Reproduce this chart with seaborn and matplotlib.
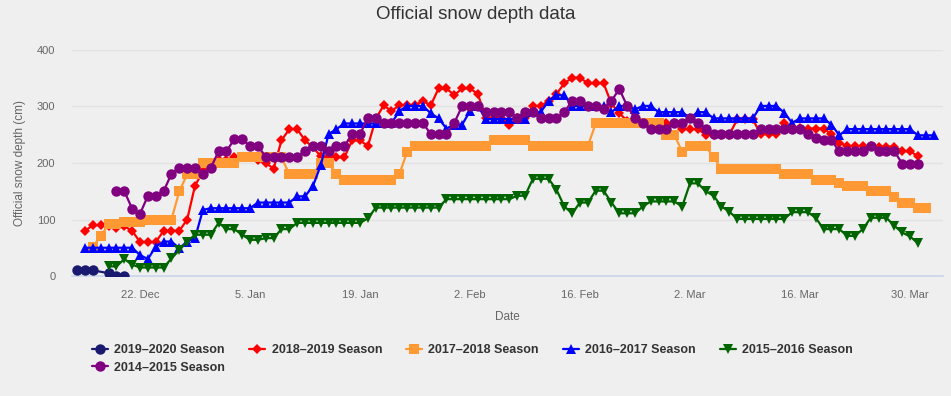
import pandas as pd
import seaborn as sns
import matplotlib.pyplot as plt
import numpy as np

# day 0 = 22 Dec, one value per day from the start day of each season
base_date = pd.Timestamp("2018-12-22")

seasons = ["2019–2020 Season", "2018–2019 Season", "2017–2018 Season",
           "2016–2017 Season", "2015–2016 Season", "2014–2015 Season"]
colors = ["#191970", "#ff0000", "#ff9933", "#0000ff", "#006400", "#800080"]
markers = ["o", "D", "s", "^", "v", "o"]
start_days = [-8, -7, -6, -7, -4, -3]

depth_1920 = [10, 10, 10, None, 5, 0, 0]

depth_1819 = [80, 90, 90, 88, 85, 88, 80, 60, 60, 60, 80, 80, 80, 100, 160, 185,
              195, 205, 205, 210, 210, 210, 205, 200, 190, 240, 260, 260, 240, 228,
              212, 210, 210, 210, 240, 240, 230, 278, 302, 292, 302, 302, 302, 310,
              302, 332, 332, 320, 332, 332, 322, 280, 280, 280, 268, 280, 280, 301,
              301, 310, 322, 341, 351, 351, 341, 341, 341, 305, 288, 275, 270, 270,
              265, 265, 270, 270, 260, 260, 260, 250, 250, 250, 250, 277, 277, 277,
              251, 251, 251, 271, 264, 262, 261, 261, 261, 251, 236, 230, 230, 230,
              230, 229, 229, 229, 221, 221, 212]

depth_1718 = [52, 70, 92, 92, 95, 95, 95, 100, 100, 100, 100, 150, 180, 180, 200,
              200, 200, 200, 200, 210, 210, 210, 210, 210, 210, 180, 180, 180, 180,
              200, 200, 180, 170, 170, 170, 170, 170, 170, 170, 180, 220, 230, 230,
              230, 230, 230, 230, 230, 230, 230, 230, 240, 240, 240, 240, 240, 230,
              230, 230, 230, 230, 230, 230, 230, 270, 270, 270, 270, 270, 270, 270,
              270, 270, 250, 250, 220, 230, 230, 230, 210, 190, 190, 190, 190, 190,
              190, 190, 190, 180, 180, 180, 180, 170, 170, 170, 165, 160, 160, 160,
              150, 150, 150, 140, 130, 130, 120, 120]

depth_1617 = [50, 50, 50, 50, 50, 50, 50, 37, 30, 52, 61, 61, 49, 61, 67, 117, 120,
              120, 120, 120, 120, 120, 130, 130, 130, 130, 130, 141, 141, 159, 196,
              251, 260, 270, 270, 270, 270, 270, 270, 270, 292, 301, 301, 301, 288,
              279, 261, 268, 268, 292, 301, 278, 278, 278, 278, 278, 278, 290, 290,
              310, 320, 320, 301, 301, 301, 301, 301, 290, 301, 301, 295, 301, 301,
              290, 290, 290, 290, 280, 290, 290, 279, 279, 279, 279, 279, 279, 301,
              301, 301, 289, 271, 279, 279, 279, 279, 268, 249, 260, 260, 260, 260,
              260, 260, 260, 260, 260, 249, 249, 249]

depth_1516 = [17, 17, 30, 20, 15, 15, 15, 15, 31, 46, 61, 73, 73, 73, 94, 83, 83,
              73, 64, 64, 67, 67, 83, 83, 94, 94, 94, 94, 94, 94, 94, 94, 94, 102,
              121, 121, 121, 121, 121, 121, 121, 121, 121, 136, 136, 136, 136, 136,
              136, 136, 136, 136, 142, 142, 172, 172, 172, 153, 123, 111, 130, 130,
              151, 151, 130, 111, 111, 111, 123, 132, 132, 132, 132, 123, 164, 164,
              150, 142, 123, 114, 101, 101, 101, 101, 101, 101, 101, 113, 113, 113,
              103, 83, 83, 83, 71, 71, 83, 103, 103, 103, 89, 77, 70, 58]

depth_1415 = [150, 150, 119, 110, 142, 142, 150, 181, 191, 191, 191, 180, 191, 221,
              221, 242, 242, 230, 230, 211, 211, 211, 211, 211, 221, 230, 230, 221,
              230, 230, 251, 251, 280, 280, 271, 271, 271, 271, 271, 271, 251, 251,
              251, 271, 301, 301, 301, 290, 290, 290, 290, 280, 290, 290, 280, 280,
              280, 290, 310, 310, 301, 301, 296, 310, 331, 301, 279, 271, 261, 261,
              261, 271, 271, 279, 271, 261, 251, 251, 251, 251, 251, 251, 261, 261,
              261, 261, 261, 261, 251, 244, 240, 240, 221, 221, 221, 221, 230, 221,
              221, 221, 199, 199, 199]

all_depths = [depth_1920, depth_1819, depth_1718, depth_1617, depth_1516, depth_1415]

frames = []
for season, start, vals in zip(seasons, start_days, all_depths):
    days = np.arange(start, start + len(vals))
    frames.append(pd.DataFrame({"Season": season,
                                "Date": base_date + pd.to_timedelta(days, unit="D"),
                                "Depth": pd.to_numeric(pd.Series(vals), errors="coerce")}))
df = pd.concat(frames, ignore_index=True).dropna()

bg = "#efefef"
sns.set_theme(style="white")
plt.rcParams["font.family"] = ["Liberation Sans", "DejaVu Sans"]

fig = plt.figure(figsize=(9.51, 3.96), dpi=100, facecolor=bg)
ax = fig.add_axes([72 / 951, 120 / 396, 871 / 951, 226 / 396])
ax.set_facecolor(bg)

sizes = {"o": 7.5, "D": 5.5, "s": 6.5, "^": 7, "v": 7}
for i, (season, color, mk) in enumerate(zip(seasons, colors, markers)):
    sub = df[df["Season"] == season]
    sns.lineplot(data=sub, x="Date", y="Depth", color=color, marker=mk,
                 markersize=sizes[mk], markeredgewidth=0, linewidth=1.6,
                 label=season, ax=ax, zorder=3 + i)

if ax.legend_ is not None:
    ax.legend_.remove()

ax.set_ylim(0, 400)
ax.set_yticks([0, 100, 200, 300, 400])
ax.set_xlim(base_date - pd.Timedelta(days=8.66), base_date + pd.Timedelta(days=102.2))
tick_dates = pd.date_range(base_date, periods=8, freq="14D")
ax.set_xticks(tick_dates)
ax.set_xticklabels([f"{d.day}. {d.strftime('%b')}" for d in tick_dates])

ax.grid(axis="y", color="#e2e2e2", linewidth=1)
ax.grid(axis="x", visible=False)
for side in ["top", "right", "left"]:
    ax.spines[side].set_visible(False)
ax.spines["bottom"].set_color("#ccd6eb")
ax.tick_params(axis="x", length=7, color="#ccd6eb", pad=3, labelsize=8, labelcolor="#666666")
ax.tick_params(axis="y", length=0, pad=12, labelsize=8, labelcolor="#666666")

ax.set_xlabel("Date", color="#666666", fontsize=8.5, labelpad=8)
ax.set_ylabel("Official snow depth (cm)", color="#666666", fontsize=8.5, labelpad=8)
fig.suptitle("Official snow depth data", x=0.5, y=1 - 6 / 396, va="top",
             fontsize=13.5, color="#333333")

handles, labels = ax.get_legend_handles_labels()
order = [0, 5, 1, 2, 3, 4]
fig.legend([handles[k] for k in order], [labels[k] for k in order],
           loc="upper left", bbox_to_anchor=(92 / 951, 1 - 344 / 396),
           ncol=5, frameon=False, borderpad=0, borderaxespad=0,
           handlelength=1.3, handletextpad=0.5, columnspacing=1.9,
           labelspacing=0.45, prop={"size": 9, "weight": "bold"},
           labelcolor="#333333")

fig.savefig("out.png", dpi=100, facecolor=bg)
